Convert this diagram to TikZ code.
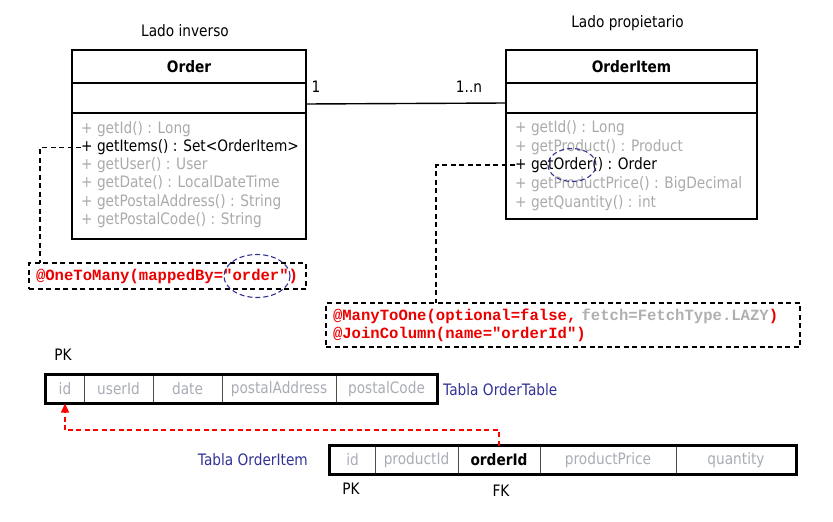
\documentclass[tikz,border=0pt]{standalone}
\usepackage{fontspec}
\setmainfont{DejaVu Sans}[FakeStretch=0.87]
\setmonofont{Liberation Mono}
\usetikzlibrary{arrows.meta,shapes.geometric}
\definecolor{mgray}{RGB}{170,170,170}
\definecolor{tgray}{RGB}{168,172,180}
\definecolor{cred}{RGB}{235,0,0}
\definecolor{navy}{RGB}{50,50,150}
\definecolor{cgray}{RGB}{175,175,175}
\newcommand{\mfont}{\fontsize{15.75}{18}\selectfont}
\begin{document}
\begin{tikzpicture}[x=1pt,y=-1pt,
  box/.style={draw, line width=1.4pt, inner sep=0pt, outer sep=0pt},
  ttl/.style={font=\mfont\bfseries},
  meth/.style={anchor=west, inner sep=0pt, font=\mfont, text=mgray},
  methon/.style={meth, text=black},
  lbl/.style={inner sep=0pt, font=\mfont},
  annot/.style={draw, line width=1.3pt, dash pattern=on 5pt off 3.5pt, anchor=north west,
    inner xsep=7pt, inner ysep=0pt, align=left, outer sep=0pt,
    font=\ttfamily\bfseries\fontsize{15.6}{18}\selectfont, text=cred},
  conn/.style={line width=1.3pt, dash pattern=on 5pt off 3.5pt},
  oval/.style={ellipse, draw=navy, line width=1.1pt, dash pattern=on 5pt off 3pt, inner sep=0pt},
  cell/.style={draw=black!70, line width=1pt, minimum height=28pt, inner sep=0pt, font=\mfont, text=tgray},
  outer/.style={line width=2.2pt}
]
\useasboundingbox (0,0) rectangle (833,522);

% ---- class Order
\node[lbl] (lado1) at (185,31) {Lado inverso};
\node[box, ttl, minimum width=234pt, minimum height=33pt] (oH) at (189,66.5) {Order};
\node[box, minimum width=234pt, minimum height=30pt, anchor=north] (oA) at (oH.south) {};
\node[box, minimum width=234pt, minimum height=126pt, anchor=north] (oM) at (oA.south) {};
\node[meth]   (om1) at (81,129) {+ getId() : Long};
\node[methon] (om2) at (81,147.5) {+ getItems() : Set<OrderItem>};
\node[meth]   (om3) at (81,165) {+ getUser() : User};
\node[meth]   (om4) at (81,183.5) {+ getDate() : LocalDateTime};
\node[meth]   (om5) at (81,202) {+ getPostalAddress() : String};
\node[meth]   (om6) at (81,220.5) {+ getPostalCode() : String};

% ---- class OrderItem
\node[lbl] (lado2) at (627.5,23) {Lado propietario};
\node[box, ttl, minimum width=251pt, minimum height=33pt] (iH) at (631.5,66.5) {OrderItem};
\node[box, minimum width=251pt, minimum height=30pt, anchor=north] (iA) at (iH.south) {};
\node[box, minimum width=251pt, minimum height=106pt, anchor=north] (iM) at (iA.south) {};
\node[meth]   (im1) at (515,128.5) {+ getId() : Long};
\node[meth]   (im2) at (515,147) {+ getProduct() : Product};
\node[methon] (im3) at (515,165) {+ getOrder() : Order};
\node[meth]   (im4) at (515,184) {+ getProductPrice() : BigDecimal};
\node[meth]   (im5) at (515,203) {+ getQuantity() : int};

% ---- association
\draw[line width=1.4pt] ([yshift=-6pt]oA.east) -- ([yshift=-5pt]iA.west);
\node[lbl] (m1) at (316,87) {1};
\node[lbl] (m2) at (469,87) {1..n};

% ---- annotations
\node[annot, minimum width=277pt, text width=263pt, minimum height=26pt] (ann1) at (29,263)
  {@OneToMany(mappedBy="order")};
\node[annot, minimum width=474pt, text width=460pt, minimum height=44pt] (ann2) at (326,303)
  {@ManyToOne(optional=false, \textcolor{cgray}{fetch=FetchType.LAZY})\\@JoinColumn(name="orderId")};
\coordinate (k1) at (40,263);
\coordinate (k2) at (436,303);
\draw[conn] (om2.west) -| (k1);
\draw[conn] (im3.west) -| (k2);
\node[oval, minimum width=66pt, minimum height=43pt] (e1) at (257,276) {};
\node[oval, minimum width=48pt, minimum height=33pt] (e2) at (572,165) {};

% ---- table OrderTable
\node[lbl] (pk1) at (63,355) {PK};
\node[cell, minimum width=38pt]  (t1a) at (65,389) {id};
\node[cell, minimum width=69pt]  (t1b) at (118.5,389) {userId};
\node[cell, minimum width=69pt]  (t1c) at (187.5,389) {date};
\node[cell, minimum width=114pt] (t1d) at (279,389) {postalAddress};
\node[cell, minimum width=101pt] (t1e) at (386.5,389) {postalCode};
\draw[outer] (t1a.north west) rectangle (t1e.south east);
\node[lbl, anchor=west, text=navy] (tn1) at (443,390) {Tabla OrderTable};

% ---- table OrderItem
\node[cell, minimum width=45pt]  (t2a) at (352.5,460) {id};
\node[cell, minimum width=83pt]  (t2b) at (416.5,460) {productId};
\node[cell, minimum width=82pt, text=black, font=\mfont\bfseries] (t2c) at (499,460) {orderId};
\node[cell, minimum width=136pt] (t2d) at (608,460) {productPrice};
\node[cell, minimum width=120pt] (t2e) at (736,460) {quantity};
\draw[outer] (t2a.north west) rectangle (t2e.south east);
\node[lbl, anchor=east, text=navy] (tn2) at (308,460) {Tabla OrderItem};
\node[lbl] (pk2) at (351,489) {PK};
\node[lbl] (fk2) at (501,491) {FK};

% ---- foreign key arrow
\coordinate (k3) at (65,430);
\draw[red, line width=1.3pt, dash pattern=on 5pt off 3.5pt] (t2c.north) |- (k3);
\draw[red, line width=1.3pt, dash pattern=on 5pt off 3.5pt, -{Triangle[width=8pt,length=9pt]}] (k3) -- (t1a.south);
\end{tikzpicture}
\end{document}
